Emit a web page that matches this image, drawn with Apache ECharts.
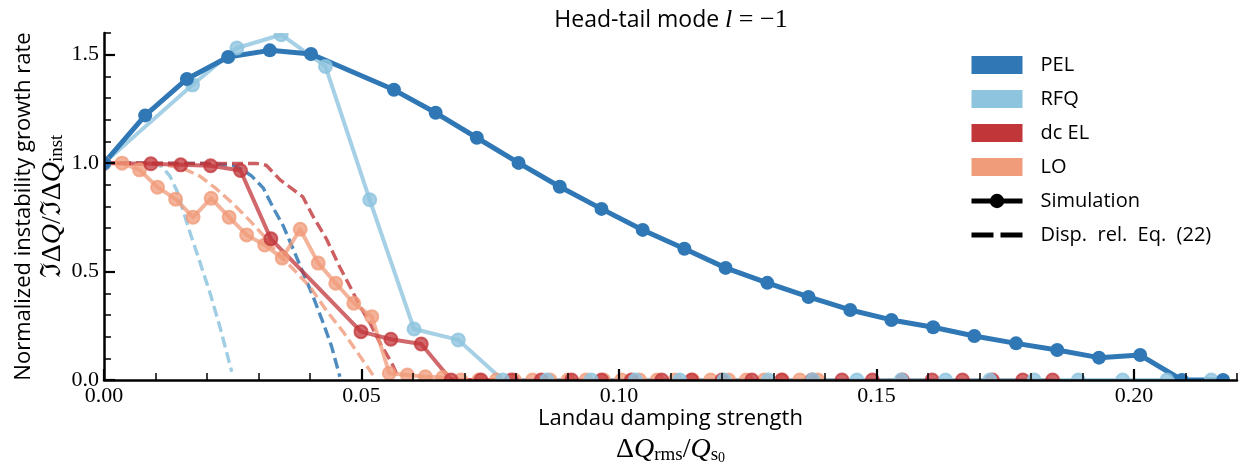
<!DOCTYPE html>
<html>
<head>
<meta charset="utf-8">
<script src="https://cdn.jsdelivr.net/npm/echarts@6/dist/echarts.min.js"></script>
<style>
  html, body { margin: 0; padding: 0; background: #ffffff; }
  #chart { width: 1250px; height: 469px; }
</style>
</head>
<body>
<div id="chart"></div>
<script>
// ---- Simulation results (normalized growth rate vs. Landau damping strength) ----
const pelX = [0, 0.0080, 0.0161, 0.0241, 0.0322, 0.0402, 0.0563, 0.0644, 0.0724, 0.0805, 0.0885,
  0.0966, 0.1046, 0.1127, 0.1207, 0.1288, 0.1368, 0.1449, 0.1529, 0.1610, 0.1690, 0.1771,
  0.1851, 0.1932, 0.2012, 0.2093, 0.2173];
const pelY = [1.0, 1.22, 1.388, 1.489, 1.52, 1.503, 1.338, 1.232, 1.117, 1.001, 0.891,
  0.789, 0.692, 0.605, 0.517, 0.448, 0.383, 0.323, 0.277, 0.243, 0.203, 0.169,
  0.138, 0.103, 0.115, 0, 0];

const rfqX = [0, 0.0172, 0.0258, 0.0344, 0.0430, 0.0516, 0.0602, 0.0688, 0.0774, 0.0860,
  0.0946, 0.1032, 0.1118, 0.1204, 0.1290, 0.1376, 0.1462, 0.1548, 0.1634, 0.1720,
  0.1806, 0.1892, 0.1978, 0.2064, 0.2150];
const rfqY = [1.0, 1.361, 1.531, 1.592, 1.446, 0.831, 0.235, 0.185, 0, 0,
  0, 0, 0, 0, 0, 0, 0, 0, 0, 0,
  0, 0, 0, 0, 0];

const elX = [0, 0.0091, 0.0149, 0.0207, 0.0265, 0.0324, 0.0499, 0.0557, 0.0616, 0.0674,
  0.0732, 0.0791, 0.0849, 0.0908, 0.0966, 0.1024, 0.1083, 0.1141, 0.1200, 0.1258,
  0.1316, 0.1375, 0.1433, 0.1492, 0.1550, 0.1608, 0.1667, 0.1725, 0.1784, 0.1842];
const elY = [1.0, 0.997, 0.992, 0.988, 0.966, 0.651, 0.223, 0.188, 0.166, 0,
  0, 0, 0, 0, 0, 0, 0, 0, 0, 0,
  0, 0, 0, 0, 0, 0, 0, 0, 0, 0];

const loX = [0, 0.0035, 0.0069, 0.0104, 0.0139, 0.0173, 0.0208, 0.0243, 0.0277, 0.0312,
  0.0346, 0.0381, 0.0416, 0.0450, 0.0485, 0.0520, 0.0554, 0.0589, 0.0624, 0.0658,
  0.0693, 0.0728, 0.0762, 0.0797, 0.0832, 0.0866, 0.0901, 0.0936, 0.0970, 0.1005,
  0.1040, 0.1074, 0.1109, 0.1143, 0.1178, 0.1213, 0.1247, 0.1282, 0.1317, 0.1351, 0.1386];
const loY = [1.0, 1.0, 0.969, 0.889, 0.834, 0.751, 0.838, 0.751, 0.669, 0.623,
  0.562, 0.695, 0.539, 0.446, 0.354, 0.292, 0.031, 0.023, 0.015, 0.011,
  0, 0, 0, 0, 0, 0, 0, 0, 0, 0,
  0, 0, 0, 0, 0, 0, 0, 0, 0, 0, 0];

// ---- Dispersion relation, Eq. (22) ----
const pelDispX = [0, 0.0200, 0.0250, 0.0270, 0.0287, 0.0309, 0.0329, 0.0348, 0.0368, 0.0387,
  0.0406, 0.0426, 0.0442, 0.0458];
const pelDispY = [1.0, 0.998, 0.99, 0.968, 0.94, 0.886, 0.792, 0.711, 0.60, 0.492,
  0.385, 0.261, 0.154, 0.015];

const rfqDispX = [0, 0.0089, 0.0112, 0.0128, 0.0142, 0.0155, 0.0167, 0.0186, 0.0206, 0.0225, 0.0248];
const rfqDispY = [1.0, 1.0, 0.985, 0.94, 0.87, 0.77, 0.68, 0.545, 0.40, 0.246, 0.038];

const elDispX = [0, 0.0297, 0.0315, 0.0342, 0.0368, 0.0386, 0.0406, 0.0432, 0.0458, 0.0478,
  0.0497, 0.0517, 0.0536, 0.0559, 0.0568];
const elDispY = [1.0, 0.998, 0.99, 0.923, 0.877, 0.845, 0.754, 0.65, 0.52, 0.43,
  0.34, 0.26, 0.17, 0.077, 0.03];

const loDispX = [0, 0.0101, 0.0128, 0.0154, 0.0186, 0.0219, 0.0251, 0.0283, 0.0316, 0.0335,
  0.0368, 0.0400, 0.0432, 0.0465, 0.0497, 0.0526];
const loDispY = [1.0, 0.995, 0.988, 0.975, 0.94, 0.88, 0.812, 0.735, 0.65, 0.59,
  0.51, 0.43, 0.32, 0.22, 0.11, 0.01];

// ---- Axis ticks ----
const xMajorTicks = [0, 0.05, 0.10, 0.15, 0.20];
const yMajorTicks = [0, 0.5, 1.0, 1.5];

const C = { pel: '#2f78b5', rfq: '#8ec4de', el: '#c13639', lo: '#f09b7a' };
const SANS = '"Open Sans", Lato, "DejaVu Sans", sans-serif';
const SERIF = '"Liberation Serif", "DejaVu Serif", serif';

const pairs = (xs, ys) => xs.map((x, i) => [x, ys[i]]);

function simSeries(name, xs, ys, color, width, size, alpha) {
  return {
    name, type: 'line', data: pairs(xs, ys), xAxisIndex: 0, yAxisIndex: 0, z: 2,
    symbol: 'circle', symbolSize: size, showAllSymbol: true, animation: false,
    lineStyle: { color, width, opacity: alpha, join: 'round' },
    itemStyle: { color, opacity: alpha, borderColor: color, borderWidth: alpha < 1 ? 2 : 0 },
    emphasis: { disabled: true }, silent: true
  };
}
function dispSeries(name, xs, ys, color, alpha) {
  return {
    name, type: 'line', data: pairs(xs, ys), xAxisIndex: 0, yAxisIndex: 0, z: 2,
    symbol: 'none', animation: false,
    lineStyle: { color, width: 3.4, opacity: alpha, type: [11, 5], cap: 'butt' },
    itemStyle: { color }, emphasis: { disabled: true }, silent: true
  };
}

const mathRich = {
  m: { fontFamily: SERIF, fontSize: 28, color: '#000' },
  i: { fontFamily: SERIF, fontSize: 28, fontStyle: 'italic', color: '#000' },
  s: { fontFamily: SERIF, fontSize: 19, color: '#000', verticalAlign: 'bottom' },
  ss: { fontFamily: SERIF, fontSize: 14, color: '#000', verticalAlign: 'bottom' }
};

// Axes sit on their own layer above the plot-area margins
const minorTickAxis = (extra) => Object.assign({
  type: 'value', min: 0, zlevel: 2, z: 5,
  axisLine: { show: true, onZero: false, lineStyle: { color: '#000', width: 2.5 } },
  axisTick: { show: true, inside: true, length: 7, lineStyle: { color: '#000', width: 1.5 } },
  axisLabel: { show: false }, splitLine: { show: false }
}, extra);

const chart = echarts.init(document.getElementById('chart'), null, { renderer: 'canvas' });
chart.setOption({
  backgroundColor: '#ffffff',
  animation: false,
  grid: { left: 104, top: 33, width: 1133, height: 347, outerBoundsMode: 'none', containLabel: false },
  xAxis: [
    minorTickAxis({ max: 0.22, interval: 0.01, position: 'bottom' }),
    {
      type: 'value', min: 0, max: 0.22, interval: 0.05, position: 'bottom', zlevel: 2, z: 5,
      axisLine: { show: false },
      axisTick: { show: true, inside: true, length: 11, customValues: xMajorTicks, lineStyle: { color: '#000', width: 2.2 } },
      axisLabel: { show: true, customValues: xMajorTicks, margin: 5, color: '#000', fontFamily: SERIF, fontSize: 22,
        formatter: v => v.toFixed(2) },
      splitLine: { show: false },
      name: 'Landau damping strength\n{m|Δ}{i|Q}{s|rms}{m|/}{i|Q}{s|s}{ss|0}',
      nameLocation: 'middle', nameGap: 23, nameMoveOverlap: false,
      nameTextStyle: { fontFamily: SANS, fontSize: 22, color: '#000', lineHeight: 31, rich: mathRich }
    }
  ],
  yAxis: [
    minorTickAxis({ max: 1.6, interval: 0.1, position: 'left' }),
    {
      type: 'value', min: 0, max: 1.6, interval: 0.5, position: 'left', zlevel: 2, z: 5,
      axisLine: { show: false },
      axisTick: { show: true, inside: true, length: 11, customValues: yMajorTicks, lineStyle: { color: '#000', width: 2.2 } },
      axisLabel: { show: true, customValues: yMajorTicks, margin: 5, color: '#000', fontFamily: SERIF, fontSize: 22,
        formatter: v => v.toFixed(1) },
      splitLine: { show: false },
      name: 'Normalized instability growth rate\n{m|ℑΔ}{i|Q}{m|/ℑΔ}{i|Q}{s|inst}',
      nameLocation: 'middle', nameRotate: 90, nameGap: 37, nameMoveOverlap: false,
      nameTextStyle: { fontFamily: SANS, fontSize: 22, color: '#000', lineHeight: 29, rich: mathRich }
    }
  ],
  legend: {
    orient: 'vertical', left: 969, top: 55, padding: 0, itemWidth: 51, itemHeight: 18, itemGap: 14,
    selectedMode: false, zlevel: 2,
    lineStyle: { width: 5 },
    textStyle: { fontFamily: SANS, fontSize: 20, color: '#000', padding: [0, 0, 0, 13] },
    data: [
      { name: 'PEL', icon: 'rect', itemStyle: { color: C.pel, opacity: 1, borderWidth: 0 } },
      { name: 'RFQ', icon: 'rect', itemStyle: { color: C.rfq, opacity: 1, borderWidth: 0 } },
      { name: 'dc EL', icon: 'rect', itemStyle: { color: C.el, opacity: 1, borderWidth: 0 } },
      { name: 'LO', icon: 'rect', itemStyle: { color: C.lo, opacity: 1, borderWidth: 0 } },
      { name: 'Simulation' },
      { name: 'Disp.  rel.  Eq.  (22)', icon: 'path://M0,0H22V5H0Z M29,0H51V5H29Z' }
    ]
  },
  graphic: {
    zlevel: 1,
    elements: [
      // white margins so marks are cut at the axes, as in a clipped plot area
      { type: 'rect', silent: true, z: 3, shape: { x: 0, y: 380, width: 1250, height: 89 }, style: { fill: '#fff' } },
      { type: 'rect', silent: true, z: 3, shape: { x: 0, y: 0, width: 104, height: 469 }, style: { fill: '#fff' } },
      { type: 'rect', silent: true, z: 3, shape: { x: 0, y: 0, width: 1250, height: 33 }, style: { fill: '#fff' } },
      { type: 'rect', silent: true, z: 3, shape: { x: 1237, y: 0, width: 13, height: 469 }, style: { fill: '#fff' } },
      {
        type: 'text', silent: true, z: 10, x: 671, y: 20,
        style: {
          text: '{a|Head-tail mode }{i|l}{m| = −1}', align: 'center', verticalAlign: 'middle',
          rich: {
            a: { fontFamily: SANS, fontSize: 23, fill: '#000' },
            i: { fontFamily: SERIF, fontSize: 26, fontStyle: 'italic', fill: '#000' },
            m: { fontFamily: SERIF, fontSize: 26, fill: '#000' }
          }
        }
      }
    ]
  },
  series: [
    dispSeries('RFQ disp', rfqDispX, rfqDispY, C.rfq, 0.85),
    dispSeries('PEL disp', pelDispX, pelDispY, C.pel, 0.85),
    dispSeries('LO disp', loDispX, loDispY, C.lo, 0.8),
    dispSeries('dc EL disp', elDispX, elDispY, C.el, 0.8),
    simSeries('LO', loX, loY, C.lo, 4, 13, 0.75),
    simSeries('dc EL', elX, elY, C.el, 4, 13, 0.75),
    simSeries('RFQ', rfqX, rfqY, C.rfq, 4, 13, 0.8),
    simSeries('PEL', pelX, pelY, C.pel, 5, 14, 1),
    {
      name: 'Simulation', type: 'line', data: [], symbol: 'circle', symbolSize: 12,
      lineStyle: { color: '#000', width: 5 }, itemStyle: { color: '#000' }
    },
    {
      name: 'Disp.  rel.  Eq.  (22)', type: 'line', data: [], symbol: 'none',
      lineStyle: { color: '#000', width: 5, type: [18, 7] }, itemStyle: { color: '#000' }
    }
  ]
});
</script>
</body>
</html>
